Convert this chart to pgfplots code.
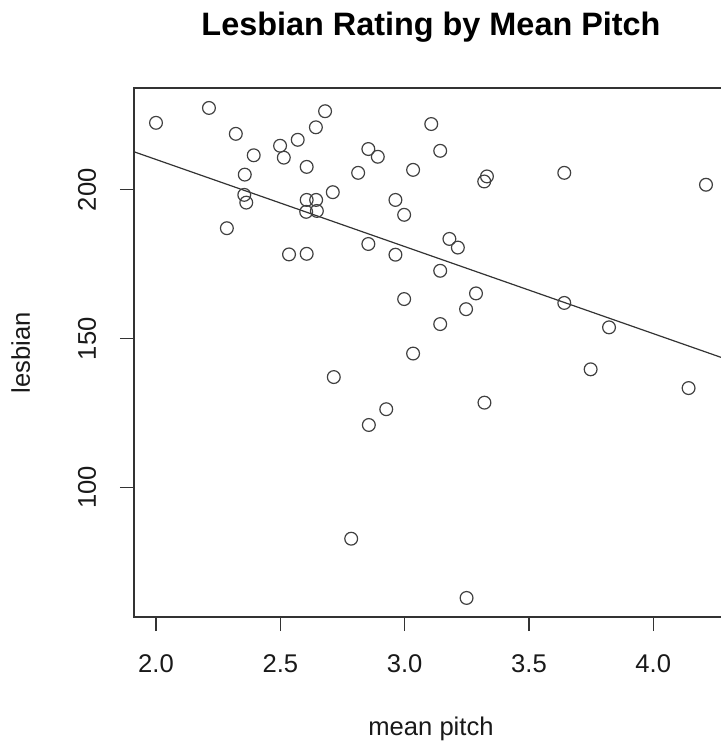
\documentclass[border=0pt]{standalone}
\usepackage{fontspec}
\setmainfont{Liberation Sans}
\usepackage{pgfplots}
\pgfplotsset{compat=1.18}
\begin{document}
\begin{tikzpicture}
\begin{axis}[
  at={(0,0)}, anchor=south west,
  scale only axis,
  width=297pt, height=264.5pt,
  xmin=1.9115, xmax=4.3005,
  ymin=56.5, ymax=234.2,
  xtick={2.0,2.5,3.0,3.5,4.0},
  xticklabels={2.0,2.5,3.0,3.5,4.0},
  ytick={100,150,200},
  axis line style={black!80, line width=0.75pt},
  tick align=outside,
  major tick length=7pt,
  tick style={black!80, line width=0.6pt},
  xtick pos=bottom, ytick pos=left,
  /pgf/number format/assume math mode=true,
  ticklabel style={font=\fontsize{12.8}{15}\selectfont, text=black!90},
  xticklabel style={anchor=base},
  xticklabel shift=20.5pt,
  yticklabel style={rotate=90, anchor=base},
  yticklabel shift=12pt,
  title={Lesbian Rating by Mean Pitch},
  title style={at={(axis description cs:0.5,1)}, anchor=base, yshift=20pt, font=\bfseries\fontsize{16.2}{19}\selectfont},
  xlabel={mean pitch},
  xlabel style={at={([yshift=-59pt]axis description cs:0.5,0)}, anchor=base, font=\fontsize{12.8}{15}\selectfont, text=black!90},
  ylabel={lesbian},
  ylabel style={at={([xshift=-52pt]axis description cs:0,0.5)}, anchor=base, rotate=0, font=\fontsize{12.8}{15}\selectfont, text=black!90},
]
\addplot[only marks, mark=o, mark size=3.2pt, mark options={black!75, line width=0.6pt}] coordinates {
(2.000,222.5) (2.213,227.5) (2.680,226.4) (2.643,221.0) (2.321,218.8)
(3.107,222.1) (2.499,214.8) (2.570,216.8) (2.393,211.6) (2.514,210.8)
(2.854,213.7) (2.892,211.1) (2.606,207.7) (3.034,206.7) (2.813,205.7)
(2.357,205.1) (2.355,198.3) (2.363,195.7) (2.711,199.2) (2.606,196.6)
(2.644,196.6) (2.604,192.6) (2.647,192.9) (2.963,196.6) (2.998,191.6)
(2.285,187.1) (2.854,181.8) (2.535,178.3) (2.606,178.5) (2.963,178.2)
(2.998,163.3) (3.034,145.0) (3.143,213.1) (3.331,204.5) (3.320,202.8)
(3.642,205.7) (4.212,201.7) (3.180,183.5) (3.214,180.6) (3.143,172.8)
(3.287,165.2) (3.247,159.9) (3.143,154.9) (3.642,162.0) (3.822,153.8)
(2.715,137.1) (2.926,126.3) (2.856,121.0) (2.785,82.8) (3.321,128.5)
(3.748,139.7) (4.142,133.4) (3.249,62.9)
};
\addplot[black!80, line width=0.6pt] coordinates {(1.9115,212.78) (4.3005,142.9)};
\end{axis}
\pgfresetboundingbox
\path[use as bounding box] (-67pt,-63.5pt) rectangle (293pt,308.5pt);
\end{tikzpicture}
\end{document}
